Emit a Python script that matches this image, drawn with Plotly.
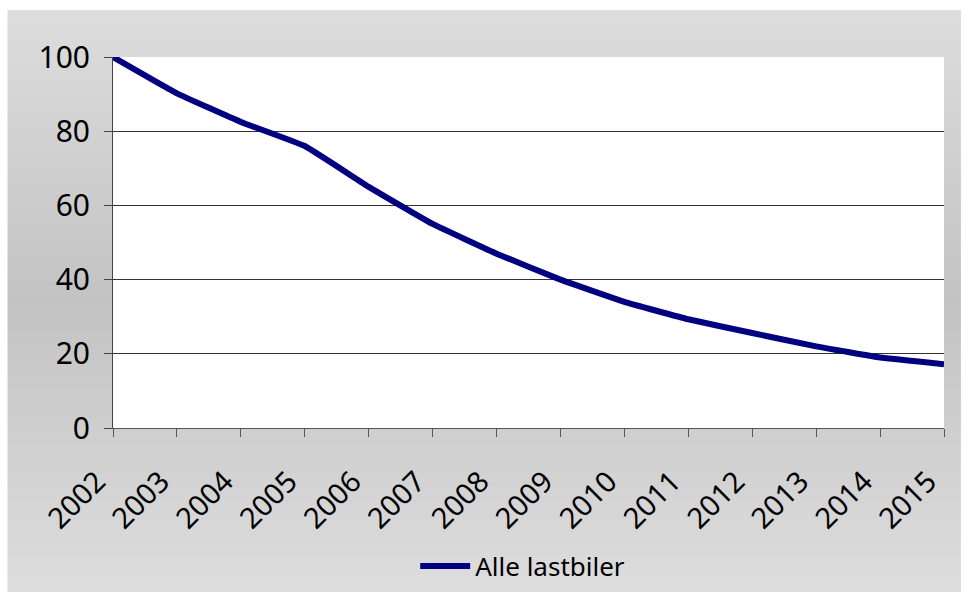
import plotly.graph_objects as go

# Index, 2002 = 100
years = ["2002", "2003", "2004", "2005", "2006", "2007", "2008",
         "2009", "2010", "2011", "2012", "2013", "2014", "2015"]
alle_lastbiler = [100, 90.2, 82.5, 76, 65, 55, 47, 40, 34, 29.3, 25.6, 22, 19, 17.2]
y_ticks = [0, 20, 40, 60, 80, 100]

W, H = 972, 603
L, R, T, B = 113, 24, 57, 175
pw, ph = W - L - R, H - T - B

def px_to_paper_x(px):
    return (px - L) / pw

def px_to_paper_y(py):
    return (H - B - py) / ph

FONT = "Noto Sans"

fig = go.Figure()
fig.add_trace(go.Scatter(
    x=list(range(len(years))), y=alle_lastbiler,
    mode="lines", name="Alle lastbiler",
    line=dict(color="#000080", width=6, shape="spline", smoothing=0.3),
))

# vertical grey gradient panel behind the chart
shapes = []
top, bottom, left, right = 10, 592, 7, 965
mid = 300
c_edge, c_mid = 221, 195
step = 4
y = top
while y < bottom:
    y2 = min(y + step, bottom)
    yc = (y + y2) / 2
    if yc <= mid:
        t = (yc - top) / (mid - top)
    else:
        t = (bottom - yc) / (bottom - mid)
    c = round(c_edge + (c_mid - c_edge) * t)
    shapes.append(dict(
        type="rect", xref="paper", yref="paper", layer="below",
        x0=px_to_paper_x(left), x1=px_to_paper_x(right),
        y0=px_to_paper_y(y2), y1=px_to_paper_y(y),
        fillcolor=f"rgb({c},{c},{c})", line=dict(width=0),
    ))
    y = y2
# white plotting area
shapes.append(dict(
    type="rect", xref="paper", yref="paper", layer="below",
    x0=0, x1=1, y0=0, y1=1, fillcolor="white", line=dict(width=0),
))

# rotated year labels sit a little below-left of their tick
year_labels = [yr + "\u00a0\u00a0\u00a0" for yr in years]

fig.update_layout(
    width=W, height=H,
    margin=dict(l=L, r=R, t=T, b=B),
    paper_bgcolor="white",
    plot_bgcolor="white",
    shapes=shapes,
    showlegend=True,
    legend=dict(
        orientation="h", x=0.493, xanchor="center",
        y=px_to_paper_y(566), yanchor="middle",
        font=dict(family=FONT, size=26, color="black"),
        bgcolor="rgba(0,0,0,0)", itemwidth=50,
    ),
    xaxis=dict(
        range=[0, len(years) - 1],
        tickmode="array", tickvals=list(range(len(years))), ticktext=year_labels,
        tickangle=-45,
        showgrid=False, zeroline=False,
        showline=True, linecolor="#555555", linewidth=1,
        ticks="outside", ticklen=8, tickcolor="#555555", tickwidth=1,
        tickfont=dict(family=FONT, size=29, color="black"),
        ticklabelstandoff=0,
    ),
    yaxis=dict(
        range=[0, 100],
        tickmode="array", tickvals=y_ticks,
        showgrid=True, gridcolor="#333333", gridwidth=1,
        zeroline=False,
        showline=True, linecolor="#444444", linewidth=1,
        ticks="outside", ticklen=8, tickcolor="#444444", tickwidth=1,
        tickfont=dict(family=FONT, size=30, color="black"),
        ticklabelstandoff=8,
    ),
)

fig.write_html("out.html")
